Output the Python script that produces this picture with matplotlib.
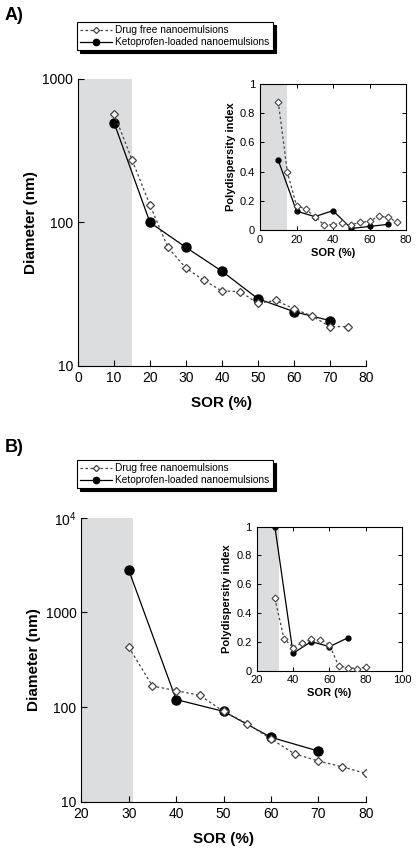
import matplotlib.pyplot as plt

plt.rcParams['font.family'] = ['Liberation Sans', 'DejaVu Sans']
plt.rcParams['mathtext.fontset'] = 'custom'
plt.rcParams['mathtext.rm'] = 'Liberation Sans'
plt.rcParams['mathtext.it'] = 'Liberation Sans:italic'

# ---- panel A data ----
sor_free_a = [10, 15, 20, 25, 30, 35, 40, 45, 50, 55, 60, 65, 70, 75]
diam_free_a = [573, 274, 132, 67, 48, 39.5, 33.3, 33, 27.3, 28.6, 25, 22.3, 18.8, 18.8]
pdi_free_a = [0.879, 0.396, 0.167, 0.144, 0.092, 0.037, 0.037, 0.05, 0.037, 0.053, 0.06, 0.096, 0.087, 0.057]

sor_keto_a = [10, 20, 30, 40, 50, 60, 70]
diam_keto_a = [497, 100, 67, 45.7, 29.4, 23.9, 20.7]
pdi_keto_a = [0.478, 0.13, 0.092, 0.133, 0.011, 0.025, 0.039]

# ---- panel B data ----
sor_free_b = [30, 35, 40, 45, 50, 55, 60, 65, 70, 75, 80]
diam_free_b = [430, 167, 149, 133, 90, 66.7, 46, 32, 26.9, 23.4, 19.9]
pdi_free_b = [0.502, 0.222, 0.16, 0.194, 0.217, 0.213, 0.18, 0.032, 0.021, 0.014, 0.023]

sor_keto_b = [30, 40, 50, 60, 70]
diam_keto_b = [2800, 120, 90, 47.9, 34.3]
pdi_keto_b = [1.0, 0.12, 0.201, 0.166, 0.227]

shade_a = (0, 15)
shade_b = (20, 31)
shade_b_inset = (20, 32)

free_style = dict(ls=(0, (2, 2)), lw=0.9, color='#444444', marker='D', ms=4.5,
                  mfc='white', mec='#444444', mew=0.9, label='Drug free nanoemulsions')
keto_style = dict(ls='-', lw=0.9, color='black', marker='o', ms=6.5,
                  mfc='black', mec='black', label='Ketoprofen-loaded nanoemulsions')
shade_color = '#dcdddf'

fig = plt.figure(figsize=(4.16, 8.49), dpi=100)


def main_axes(rect, xs_f, ys_f, xs_k, ys_k, shade, xlim, ylim, xticks, yticks, ylabels):
    ax = fig.add_axes(rect)
    ax.axvspan(*shade, color=shade_color, lw=0, zorder=0)
    ax.plot(xs_f, ys_f, **free_style, zorder=3)
    ax.plot(xs_k, ys_k, **keto_style, zorder=2)
    ax.set_yscale('log')
    ax.set_xlim(*xlim)
    ax.set_ylim(*ylim)
    ax.set_xticks(xticks)
    ax.set_yticks(yticks)
    ax.set_yticklabels(ylabels)
    ax.minorticks_off()
    ax.tick_params(direction='in', length=4, labelsize=10, width=0.8)
    for s in ['top', 'right']:
        ax.spines[s].set_visible(False)
    for s in ['left', 'bottom']:
        ax.spines[s].set_linewidth(0.8)
    ax.set_xlabel('SOR (%)', fontsize=11, fontweight='bold', labelpad=8)
    ax.set_ylabel('Diameter (nm)', fontsize=11, fontweight='bold', labelpad=3)
    return ax


def inset_axes(rect, xs_f, ys_f, xs_k, ys_k, shade, xlim, xticks):
    ax = fig.add_axes(rect)
    ax.axvspan(*shade, color=shade_color, lw=0, zorder=0)
    fs = dict(free_style)
    fs.update(ms=3.5, mew=0.8)
    ks = dict(keto_style)
    ks.update(ms=3.5)
    ax.plot(xs_f, ys_f, **fs, zorder=3)
    ax.plot(xs_k, ys_k, **ks, zorder=2)
    ax.set_xlim(*xlim)
    ax.set_ylim(0, 1)
    ax.set_xticks(xticks)
    ax.set_yticks([0, 0.2, 0.4, 0.6, 0.8, 1])
    ax.set_yticklabels(['0', '0.2', '0.4', '0.6', '0.8', '1'])
    ax.tick_params(direction='in', length=3, labelsize=8, width=0.7,
                   top=True, right=True)
    for s in ax.spines.values():
        s.set_linewidth(0.8)
    ax.set_xlabel('SOR (%)', fontsize=8, fontweight='bold', labelpad=2)
    ax.set_ylabel('Polydispersity index', fontsize=8, fontweight='bold', labelpad=3)
    return ax


ax_a = main_axes([0.1875, 0.569, 0.692, 0.338], sor_free_a, diam_free_a, sor_keto_a, diam_keto_a,
                 shade_a, (0, 80), (10, 1000), range(0, 81, 10), [10, 100, 1000],
                 ['10', '100', '1000'])
inset_axes([0.625, 0.729, 0.351, 0.172], sor_free_a, pdi_free_a, sor_keto_a, pdi_keto_a,
           shade_a, (0, 80), [0, 20, 40, 60, 80])

ax_b = main_axes([0.1955, 0.0557, 0.6837, 0.3345], sor_free_b, diam_free_b, sor_keto_b, diam_keto_b,
                 shade_b, (20, 80), (10, 10000), range(20, 81, 10), [10, 100, 1000, 10000],
                 ['10', '100', '1000', r'$10^4$'])
inset_axes([0.617, 0.2102, 0.350, 0.1694], sor_free_b, pdi_free_b, sor_keto_b, pdi_keto_b,
           shade_b_inset, (20, 100), [20, 40, 60, 80, 100])

# legends with black drop shadow
for ax, y in [(ax_a, 0.9575), (ax_b, 0.4415)]:
    h, l = ax.get_legend_handles_labels()
    leg = fig.legend(h, l, loc='center left', bbox_to_anchor=(0.185, y), fontsize=7.3,
                     frameon=True, fancybox=False, edgecolor='black', framealpha=1,
                     shadow={'color': 'black', 'alpha': 1, 'ox': 2, 'oy': -2},
                     borderpad=0.3, handlelength=3.2, handletextpad=0.3, labelspacing=0.2,
                     borderaxespad=0, markerscale=0.7)
    leg.get_frame().set_linewidth(0.8)

fig.text(0.012, 0.982, 'A)', fontsize=13, fontweight='bold', va='center')
fig.text(0.012, 0.473, 'B)', fontsize=13, fontweight='bold', va='center')

fig.savefig('out.png', dpi=100)
